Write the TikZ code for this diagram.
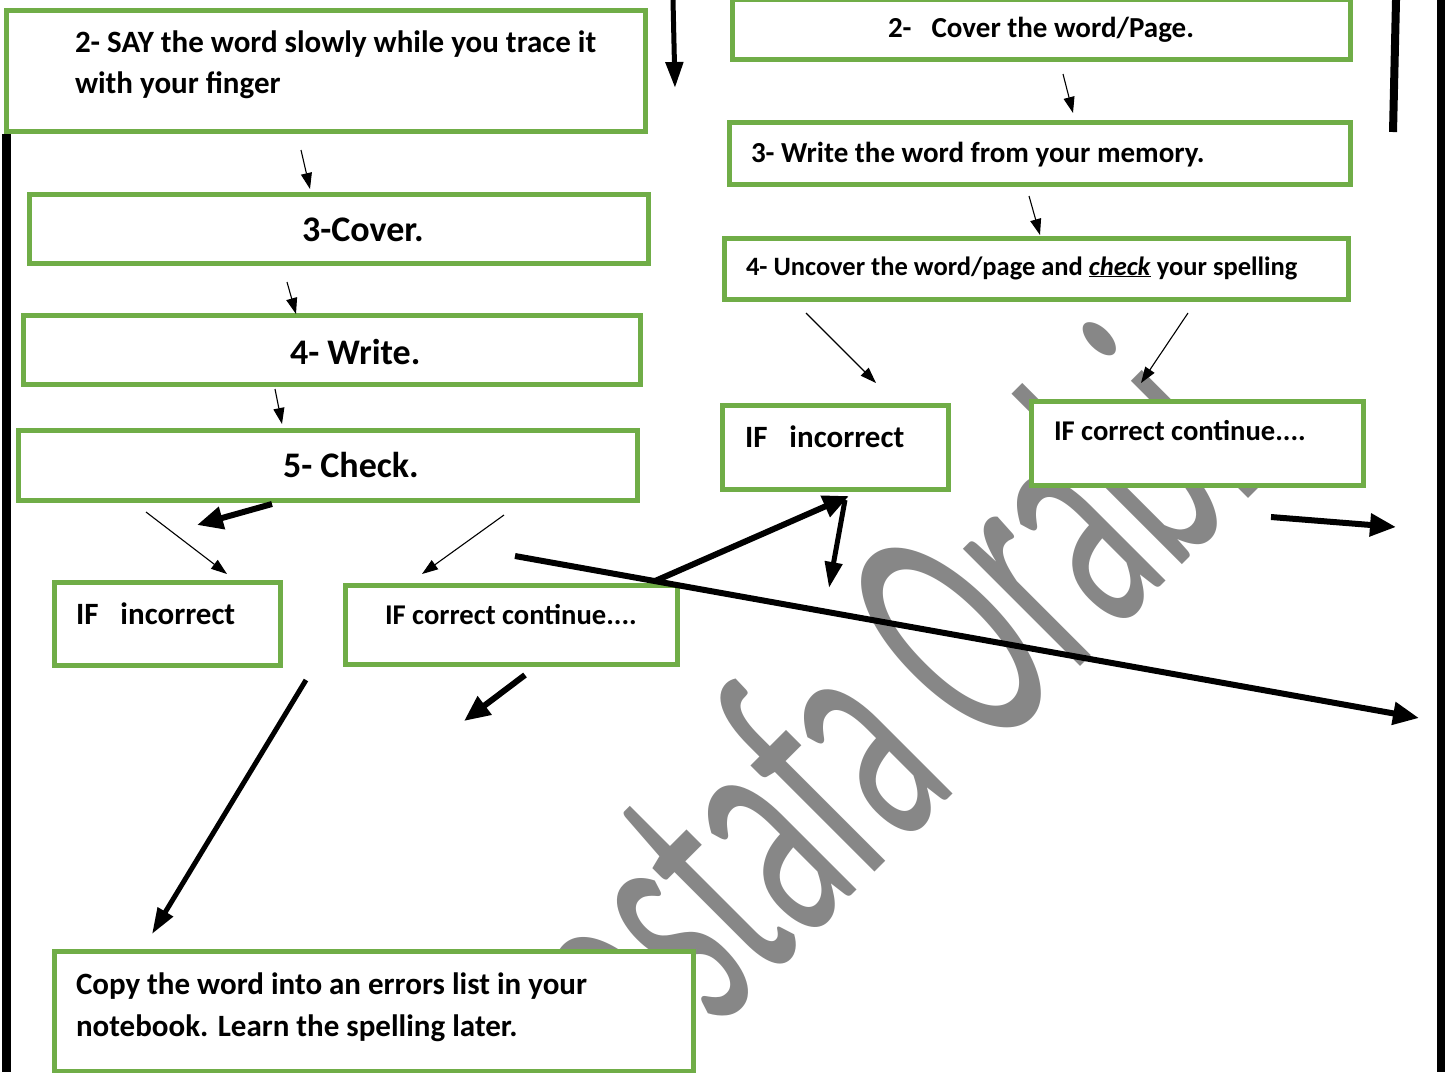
\documentclass[tikz,border=0pt]{standalone}
\usepackage{fontspec}
\setmainfont{Carlito}
\usetikzlibrary{arrows.meta}
\definecolor{gborder}{HTML}{70AD47}
\definecolor{wmark}{HTML}{878787}
\newcommand{\gbox}[5]{\node[gbox, minimum width={#4-#2-5}, minimum height={#5-#3-5}] (#1) at ({(#2+#4)/2},{(#3+#5)/2}) {};}
\begin{document}
\begin{tikzpicture}[x=1pt,y=-1pt,
  gbox/.style={draw=gborder, line width=5pt, fill=white, inner sep=0pt, outer sep=0pt},
  txt/.style={anchor=base west, inner sep=0pt, outer sep=0pt, align=left, text=black},
  fA/.style={font=\bfseries\fontsize{31}{41.5}\selectfont},
  fB/.style={font=\bfseries\fontsize{36}{40}\selectfont},
  fC/.style={font=\bfseries\fontsize{29}{34}\selectfont},
  fD/.style={font=\bfseries\fontsize{26.5}{30}\selectfont},
  fE/.style={font=\bfseries\fontsize{28.6}{32}\selectfont},
  thinarrow/.style={line width=1.1pt, -{Triangle[length=16pt,width=11pt]}},
  thickarrow/.style={line width=6pt, -{Triangle[length=26pt,width=22pt]}},
  midarrow/.style={line width=5pt, -{Triangle[length=26pt,width=17pt]}},
  bar/.style={line width=8pt}]
\useasboundingbox (0,0) rectangle (1447,1072);
\clip (0,0) rectangle (1447,1072);
\fill[white] (0,0) rectangle (1447,1072);
% watermark
\begin{scope}[shift={(542,1205)}, rotate=45, yscale=1.95]
  \node[transform shape, anchor=base west, inner sep=0pt, text=wmark, font=\fontsize{178}{200}\selectfont] (wm) at (0,0) {Mostafa Orabi};
\end{scope}
% page bars
\coordinate (lbT) at (6.5,134);
\coordinate (lbB) at (6.5,1072);
\coordinate (rbT) at (1441,0);
\coordinate (rbB) at (1441,1072);
\coordinate (sbT) at (1396,0);
\coordinate (sbB) at (1393,132);
\draw[line width=9pt] (lbT) -- (lbB);
\draw[bar] (rbT) -- (rbB);
\draw[bar] (sbT) -- (sbB);
% boxes
\gbox{b1}{4}{8}{648}{134}
\gbox{b2}{27}{192}{651}{266}
\gbox{b3}{21}{313}{643}{387}
\gbox{b4}{16}{428}{640}{503}
\gbox{b5}{52}{580}{283}{668}
\gbox{b6}{343}{583}{680}{667}
\gbox{b7}{52}{949}{696}{1074}
\gbox{r1}{730}{-3}{1353}{62}
\gbox{r2}{727}{120}{1353}{187}
\gbox{r3}{722}{236}{1351}{302}
\gbox{r4}{720}{403}{951}{492}
\gbox{r5}{1029}{399}{1366}{488}
% texts
\node[txt,fA] (t1) at (75,93.5) {2- SAY the word slowly while you trace it\\with your finger};
\node[txt,fB] (t2) at (302,241) {3-Cover.};
\node[txt,fB] (t3) at (290,364) {4- Write.};
\node[txt,fB] (t4) at (283,477) {5- Check.};
\node[txt,fA] (t5) at (76,624) {IF\hspace{22pt}incorrect};
\node[txt,fE] (t6) at (385,624) {IF correct continue....};
\node[txt,fA] (t7) at (76,1036) {Copy the word into an errors list in your\\notebook. Learn the spelling later.};
\node[txt,fC] (u1) at (888,37) {2-\hspace{20pt}Cover the word/Page.};
\node[txt,fC] (u2) at (751,162) {3- Write the word from your memory.};
\node[txt,fD] (u3) at (746,275) {4- Uncover the word/page and \underline{\textit{check}} your spelling};
\node[txt,fA] (u4) at (745,447) {IF\hspace{22pt}incorrect};
\node[txt,fE] (u5) at (1054,440) {IF correct continue....};
% arrow end points
\coordinate (a1s) at (301,150); \coordinate (a1e) at (310,189);
\coordinate (a2s) at (287,282); \coordinate (a2e) at (296,314);
\coordinate (a3s) at (275,389); \coordinate (a3e) at (282,424);
\coordinate (a4s) at (146,512); \coordinate (a4e) at (227,574);
\coordinate (a5s) at (504,515); \coordinate (a5e) at (422,574);
\coordinate (a6s) at (1063,74); \coordinate (a6e) at (1073,113);
\coordinate (a7s) at (1029,196); \coordinate (a7e) at (1040,235);
\coordinate (a8s) at (806,313); \coordinate (a8e) at (876,383);
\coordinate (a9s) at (1188,313); \coordinate (a9e) at (1141,383);
\coordinate (T1s) at (272,504); \coordinate (T1e) at (197,525);
\coordinate (T2s) at (515,556); \coordinate (T2e) at (1419,718);
\coordinate (T3s) at (655,581); \coordinate (T3e) at (849,496);
\coordinate (T4s) at (845,500); \coordinate (T4e) at (829,588);
\coordinate (T5s) at (1271,517); \coordinate (T5e) at (1396,527);
\coordinate (T6s) at (306,680); \coordinate (T6e) at (152,934);
\coordinate (T7s) at (525,675); \coordinate (T7e) at (464,721);
\coordinate (T8s) at (673,0); \coordinate (T8e) at (675,88);
% thin arrows
\draw[thinarrow] (a1s) -- (a1e);
\draw[thinarrow] (a2s) -- (a2e);
\draw[thinarrow] (a3s) -- (a3e);
\draw[thinarrow] (a4s) -- (a4e);
\draw[thinarrow] (a5s) -- (a5e);
\draw[thinarrow] (a6s) -- (a6e);
\draw[thinarrow] (a7s) -- (a7e);
\draw[thinarrow] (a8s) -- (a8e);
\draw[thinarrow] (a9s) -- (a9e);
% thick arrows
\draw[thickarrow] (T1s) -- (T1e);
\draw[thickarrow] (T2s) -- (T2e);
\draw[thickarrow] (T3s) -- (T3e);
\draw[midarrow] (T4s) -- (T4e);
\draw[thickarrow] (T5s) -- (T5e);
\draw[midarrow] (T6s) -- (T6e);
\draw[thickarrow] (T7s) -- (T7e);
\draw[midarrow] (T8s) -- (T8e);
\end{tikzpicture}
\end{document}
